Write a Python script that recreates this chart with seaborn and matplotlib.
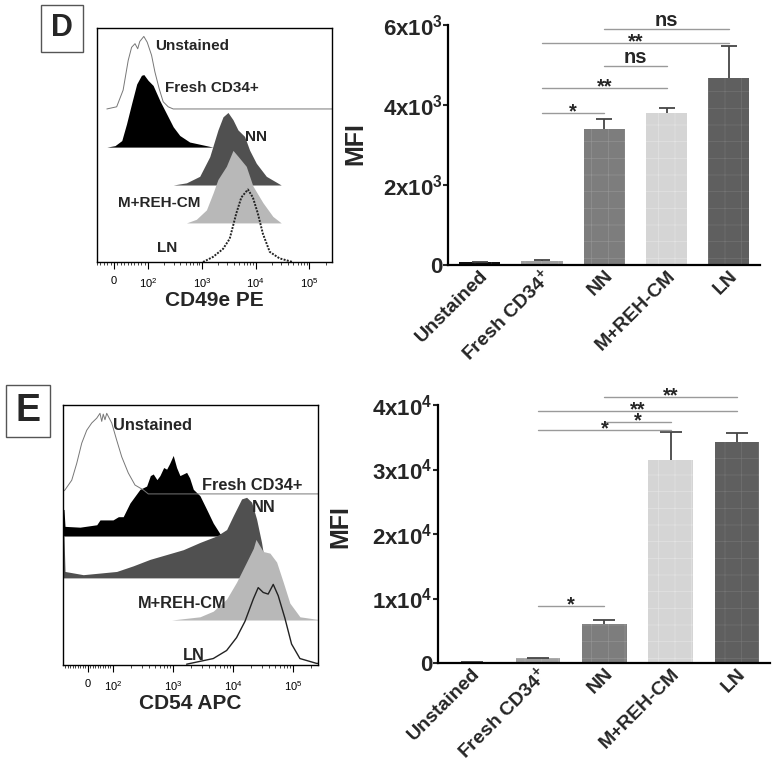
import numpy as np
import pandas as pd
import matplotlib
matplotlib.use("Agg")
import matplotlib.pyplot as plt
import matplotlib.transforms as mtransforms
import seaborn as sns
from matplotlib.patches import Rectangle
from matplotlib.ticker import FixedLocator, NullLocator

sns.set_style("white")
plt.rcParams["font.family"] = ["Liberation Sans", "DejaVu Sans"]
plt.rcParams["mathtext.fontset"] = "custom"
plt.rcParams["mathtext.rm"] = "Liberation Sans"
plt.rcParams["mathtext.it"] = "Liberation Sans:italic"
plt.rcParams["mathtext.bf"] = "Liberation Sans:bold"
plt.rcParams["hatch.linewidth"] = 0.5

# ---------------- data ----------------
groups = ["Unstained", "Fresh CD34+", "NN", "M+REH-CM", "LN"]
bar_tick_labels = ["Unstained", r"Fresh CD34$^{\mathbf{+}}$", "NN", "M+REH-CM", "LN"]

# bar charts (MFI, mean and upper SEM)
cd49e_mfi = [75, 100, 3400, 3800, 4675]
cd49e_sem = [0, 15, 250, 125, 800]
cd54_mfi = [100, 700, 6000, 31500, 34250]
cd54_sem = [0, 100, 650, 4300, 1400]

cd49e_yticks = [0, 2000, 4000, 6000]
cd49e_yticklabels = ["0", r"$\mathbf{2x10^{3}}$", r"$\mathbf{4x10^{3}}$", r"$\mathbf{6x10^{3}}$"]
cd54_yticks = [0, 10000, 20000, 30000, 40000]
cd54_yticklabels = ["0", r"$\mathbf{1x10^{4}}$", r"$\mathbf{2x10^{4}}$",
                    r"$\mathbf{3x10^{4}}$", r"$\mathbf{4x10^{4}}$"]

# significance comparisons (group index pairs, bracket height, label)
cd49e_sig_pairs = [(1, 2), (1, 3), (2, 3), (1, 4), (2, 4)]
cd49e_sig_heights = [3800, 4425, 4975, 5550, 5900]
cd49e_sig_labels = ["*", "**", "ns", "**", "ns"]
cd54_sig_pairs = [(1, 2), (1, 3), (2, 3), (1, 4), (2, 4)]
cd54_sig_heights = [8840, 36120, 37360, 39070, 41240]
cd54_sig_labels = ["*", "*", "*", "**", "**"]

# flow histograms: fluorescence intensity (x) and % of max (y)
d_unst_x = [-21, 8, 27, 42, 52, 62, 70, 76, 88, 98, 117, 135, 162, 192, 238, 295, 262144]
d_unst_y = [0, 3, 26, 67, 85, 90, 83, 93, 100, 92, 74, 51, 28, 10, 3, 0, 0]
d_fresh_x = [-21, 3, 23, 37, 52, 67, 81, 88, 101, 125, 167, 222, 295, 391, 596, 916, 1617]
d_fresh_y = [0, 2, 9, 32, 60, 87, 99, 100, 92, 85, 64, 46, 28, 16, 7, 4, 0]
d_nn_x = [295, 520, 916, 1406, 2000, 2480, 3070, 3800, 4700, 6250, 7740, 10300, 15800, 29900]
d_nn_y = [0, 3, 12, 39, 76, 94, 100, 90, 76, 67, 48, 30, 12, 0]
d_mreh_x = [520, 794, 1222, 1617, 2000, 2860, 3800, 4700, 6710, 8900, 13650, 20900, 29900]
d_mreh_y = [0, 5, 18, 41, 60, 78, 100, 92, 78, 51, 28, 9, 0]
d_ln_x = [1057, 1617, 2480, 3300, 4380, 5430, 7200, 8900, 11000, 13650, 18300, 27800, 48600]
d_ln_y = [0, 7, 18, 32, 67, 89, 100, 89, 67, 39, 14, 5, 0]

e_unst_x = [-100, -92, -65, -45, -25, -5, 15, 35, 48, 55, 61, 68, 75, 95, 115, 140, 180, 233, 320, 388, 262144]
e_unst_y = [3, 5, 17, 38, 63, 79, 88, 94, 100, 90, 99, 92, 100, 88, 67, 46, 26, 11, 5, 0, 0]
e_fresh_x = [-100, -96, -92, -32, 35, 48, 100, 123, 148, 192, 282, 364, 420, 469, 540, 606, 700,
             785, 880, 1010, 1150, 1308, 1690, 1900, 2185, 2820, 3650, 4700, 6070, 7850, 20000]
e_fresh_y = [33, 33, 12, 11, 14, 20, 20, 24, 24, 41, 58, 62, 75, 77, 70, 75, 85,
             83, 90, 100, 85, 75, 79, 72, 58, 50, 33, 16, 3, 0, 0]
e_nn_x = [-100, -96, -92, -19, 48, 115, 218, 414, 785, 1485, 2820, 5340, 7850, 10100, 13960,
          16900, 20500, 24800, 30000, 34000, 36000]
e_nn_y = [52, 52, 8, 4, 6, 8, 15, 23, 29, 35, 44, 52, 60, 77, 98, 100, 94, 73, 44, 19, 0]
e_mreh_x = [950, 2820, 4700, 7850, 11500, 16900, 21900, 24200, 32000, 41400, 53500, 69000,
            89000, 131000, 248000, 262144]
e_mreh_y = [0, 4, 11, 26, 47, 72, 89, 100, 85, 83, 72, 47, 21, 4, 1, 1]
e_ln_x = [1690, 4700, 7850, 11500, 15850, 21900, 26400, 32000, 38700, 47000, 56900, 73600,
          95000, 131000, 248000, 262144]
e_ln_y = [1, 8, 18, 34, 54, 82, 96, 90, 88, 100, 86, 58, 26, 8, 2, 2]

# ---------------- styling ----------------
bar_colors = ["#111111", "#a0a0a0", "#7d7d7d", "#d5d5d5", "#5f5f5f"]
bar_hatch_colors = ["#333333", "#b0b0b0", "#939393", "#e3e3e3", "#737373"]
hist_styles = {
    "Unstained": dict(kind="line", color="#777777", lw=0.7, ls="-"),
    "Fresh CD34+": dict(kind="fill", color="#000000"),
    "NN": dict(kind="fill", color="#505050"),
    "M+REH-CM": dict(kind="fill", color="#b8b8b8"),
}

W, H = 778, 782
fig = plt.figure(figsize=(W / 100, H / 100), dpi=100)


def px_axes(x0, y0, x1, y1):
    return fig.add_axes([x0 / W, 1 - y1 / H, (x1 - x0) / W, (y1 - y0) / H])


def hist_panel(ax, curves, offsets, linscale, xmin, xlabel, label_pos, label_fs, ln_style):
    ax.set_xscale("symlog", linthresh=100, linscale=linscale)
    order = ["Fresh CD34+", "NN", "M+REH-CM", "Unstained", "LN"]
    for name in order:
        x, y = curves[name]
        off = offsets[groups.index(name)]
        yy = off + np.asarray(y, float) * 0.31
        if name == "LN":
            ax.plot(x, yy, **ln_style)
            continue
        st = hist_styles[name]
        if st["kind"] == "fill":
            ax.fill_between(x, off, yy, color=st["color"], lw=0)
        else:
            ax.plot(x, yy, color=st["color"], lw=st["lw"], ls=st["ls"])
    ax.set_xlim(xmin, 262144)
    ax.set_ylim(0, 100)
    ax.yaxis.set_major_locator(NullLocator())
    ax.xaxis.set_major_locator(FixedLocator([0, 100, 1000, 10000, 100000]))
    ax.set_xticklabels(["0", r"$10^{2}$", r"$10^{3}$", r"$10^{4}$", r"$10^{5}$"], fontsize=8)
    minors = [v for v in range(-90, 100, 10) if v != 0 and v >= xmin]
    minors += [k * 10 ** d for d in range(2, 6) for k in range(2, 10) if k * 10 ** d <= 262144]
    ax.xaxis.set_minor_locator(FixedLocator(minors))
    ax.tick_params(axis="x", which="major", direction="out", length=5, width=0.8, pad=5,
                   bottom=True, colors="black")
    ax.tick_params(axis="x", which="minor", direction="out", length=2.5, width=0.6, bottom=True)
    for s in ax.spines.values():
        s.set_visible(True)
        s.set_color("black")
        s.set_linewidth(1.0)
    ax.set_xlabel(xlabel, fontsize=15, fontweight="bold", labelpad=1)
    for name, (lx, ly) in zip(groups, label_pos):
        ax.text(lx, ly, name, transform=ax.transAxes, fontsize=label_fs, fontweight="bold",
                ha="left", va="center")


def bar_panel(ax, mfi, sem, width, capsize, yticks, yticklabels, ymax,
              sig_pairs, sig_heights, sig_labels, ylabel_xy):
    df = pd.DataFrame({"group": groups, "MFI": mfi})
    sns.barplot(data=df, x="group", y="MFI", hue="group", order=groups, hue_order=groups,
                palette=dict(zip(groups, bar_colors)), legend=False, width=width,
                errorbar=None, saturation=1, ax=ax, linewidth=0)
    for p, hc in zip(ax.patches, bar_hatch_colors):
        p.set_hatch("+")
        p.set_edgecolor(hc)
        p.set_linewidth(0)
    xs = np.arange(len(groups))
    _, caplines, _ = ax.errorbar(xs, mfi, yerr=[np.zeros(len(sem)), sem], fmt="none",
                                 ecolor="#454545", elinewidth=1.3, capsize=capsize, capthick=1.3)
    if len(caplines) >= 2:
        caplines[0].set_visible(False)  # only the upper cap, as in the original
    ax.set_xlim(-0.51, len(groups) - 0.5)
    ax.set_ylim(0, ymax)
    ax.set_yticks(yticks)
    ax.set_yticklabels(yticklabels, fontsize=16, fontweight="bold")
    ax.set_xticks(xs)
    ax.tick_params(axis="x", length=0, pad=8)
    ax.tick_params(axis="y", direction="out", length=3.5, width=1.5, pad=0.5, left=True)
    ax.set_xticklabels(bar_tick_labels, rotation=45, ha="right", va="center",
                       rotation_mode="anchor", fontsize=14, fontweight="bold")
    shift = mtransforms.ScaledTranslation(6 / 100, 3 / 100, fig.dpi_scale_trans)
    for lab in ax.get_xticklabels():
        lab.set_transform(lab.get_transform() + shift)
    for side in ["top", "right"]:
        ax.spines[side].set_visible(False)
    for side in ["left", "bottom"]:
        ax.spines[side].set_color("black")
        ax.spines[side].set_linewidth(1.6)
    ax.set_xlabel("")
    ax.set_ylabel("MFI", fontsize=18, fontweight="bold")
    ax.yaxis.set_label_coords(*ylabel_xy)
    for (i, j), h, lab in zip(sig_pairs, sig_heights, sig_labels):
        ax.plot([i, j], [h, h], color="#9a9a9a", lw=1.0, clip_on=False)
        dy = 2.5 if lab == "ns" else -3.5
        ax.annotate(lab, xy=((i + j) / 2, h), xytext=(0, dy), textcoords="offset points",
                    ha="center", va="baseline", fontsize=14.5, fontweight="bold",
                    annotation_clip=False)


# ---------------- panel D ----------------
axDh = px_axes(97, 28, 332, 262)
hist_panel(axDh,
           {"Unstained": (d_unst_x, d_unst_y), "Fresh CD34+": (d_fresh_x, d_fresh_y),
            "NN": (d_nn_x, d_nn_y), "M+REH-CM": (d_mreh_x, d_mreh_y), "LN": (d_ln_x, d_ln_y)},
           offsets=[65.4, 49.1, 32.9, 16.7, 0.0], linscale=0.567, xmin=-50,
           xlabel="CD49e PE",
           label_pos=[(0.247, 0.923), (0.289, 0.744), (0.630, 0.534), (0.089, 0.252), (0.255, 0.06)],
           label_fs=11,
           ln_style=dict(color="#222222", lw=1.4, ls=(0, (1, 0.7))))

axDb = px_axes(448, 25, 760, 265)
bar_panel(axDb, cd49e_mfi, cd49e_sem, 0.66, 6, cd49e_yticks, cd49e_yticklabels, 6000,
          cd49e_sig_pairs, cd49e_sig_heights, cd49e_sig_labels, (-0.26, 0.508))

# ---------------- panel E ----------------
axEh = px_axes(63, 405, 318, 665)
hist_panel(axEh,
           {"Unstained": (e_unst_x, e_unst_y), "Fresh CD34+": (e_fresh_x, e_fresh_y),
            "NN": (e_nn_x, e_nn_y), "M+REH-CM": (e_mreh_x, e_mreh_y), "LN": (e_ln_x, e_ln_y)},
           offsets=[65.8, 49.6, 33.5, 17.3, 0.0], linscale=0.375, xmin=-100,
           xlabel="CD54 APC",
           label_pos=[(0.196, 0.923), (0.545, 0.692), (0.741, 0.604), (0.294, 0.238), (0.47, 0.038)],
           label_fs=11.8,
           ln_style=dict(color="#222222", lw=1.0, ls="-"))

axEb = px_axes(438, 405, 770, 663)
bar_panel(axEb, cd54_mfi, cd54_sem, 0.67, 8, cd54_yticks, cd54_yticklabels, 40000,
          cd54_sig_pairs, cd54_sig_heights, cd54_sig_labels, (-0.259, 0.527))

# ---------------- panel letters ----------------
for (x0, y0, x1, y1), letter, fs in [((41, 5, 83, 52), "D", 22), ((6, 385, 50, 437), "E", 27)]:
    fig.add_artist(Rectangle((x0 / W, 1 - y1 / H), (x1 - x0) / W, (y1 - y0) / H,
                             transform=fig.transFigure, fill=False, edgecolor="#555555", lw=1.0))
    fig.text((x0 + x1) / 2 / W, 1 - (y0 + y1) / 2 / H, letter, fontsize=fs, fontweight="bold",
             ha="center", va="center")

fig.savefig("out.png", dpi=100)
